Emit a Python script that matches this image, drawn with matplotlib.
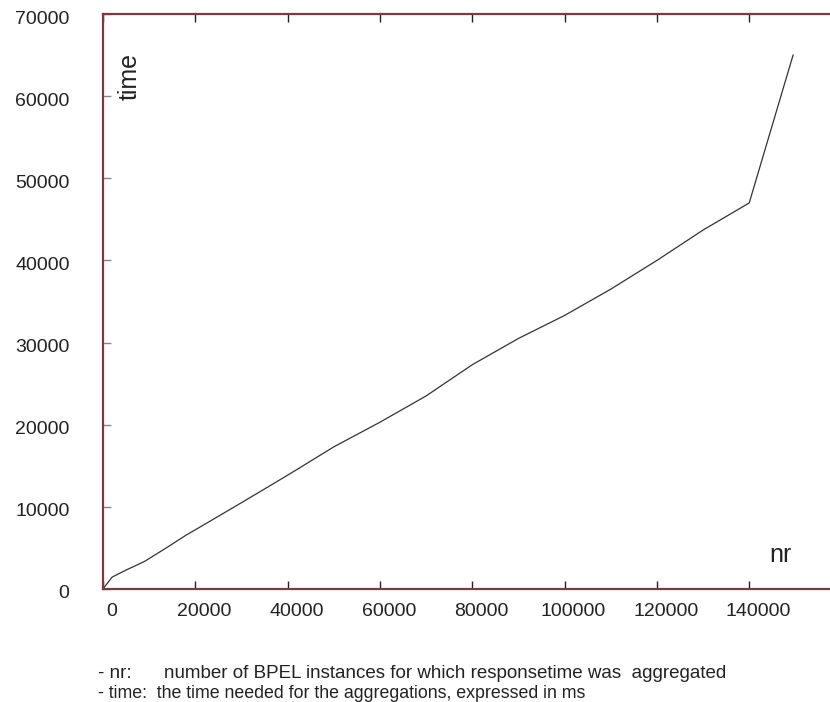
import matplotlib.pyplot as plt
import matplotlib.transforms as mtransforms
import numpy as np

plt.rcParams['font.family'] = ['Liberation Sans', 'DejaVu Sans']

nr = [0, 2000, 5000, 9000, 14000, 18000, 20000, 30000, 40000, 50000, 60000,
      70000, 80000, 90000, 100000, 110000, 120000, 130000, 140000, 149500]
time_ms = [0, 1450, 2300, 3350, 5100, 6550, 7200, 10500, 13850, 17300, 20300,
           23500, 27300, 30500, 33300, 36500, 40000, 43700, 47000, 65000]

xticks = np.arange(0, 140001, 20000)
yticks = np.arange(0, 70001, 10000)

spine_col = '#7d3a40'

fig = plt.figure(figsize=(8.3, 7.02), dpi=100)
ax = fig.add_axes([0.124, 0.161, 0.876, 0.819])

ax.plot(nr, time_ms, color='#333333', linewidth=0.9)

ax.set_xlim(0, 157500)
ax.set_ylim(0, 70000)
ax.set_xticks(xticks)
ax.set_yticks(yticks)
ax.set_xticklabels([str(v) for v in xticks])
ax.set_yticklabels([str(v) for v in yticks])

for s in ['left', 'top', 'bottom']:
    ax.spines[s].set_color(spine_col)
    ax.spines[s].set_linewidth(1.6)
ax.spines['right'].set_visible(False)

ax.tick_params(axis='x', direction='in', length=6, width=1, color='#222222',
               top=True, labelsize=14, pad=10, labelcolor='#222222')
ax.tick_params(axis='y', direction='in', length=6, width=1, color='#888888',
               labelsize=14, pad=24, labelcolor='#222222')

# labels in the original sit a little right / below their ticks
xoff = mtransforms.ScaledTranslation(9 / 100, 0, fig.dpi_scale_trans)
for lab in ax.get_xticklabels():
    lab.set_transform(lab.get_transform() + xoff)
yoff = mtransforms.ScaledTranslation(0, -3 / 100, fig.dpi_scale_trans)
for lab in ax.get_yticklabels():
    lab.set_transform(lab.get_transform() + yoff)

ax.text(130 / 830, 1 - 76 / 702, 'time', transform=fig.transFigure,
        fontsize=18, rotation=90, ha='center', va='center', color='#222222')
ax.text(781 / 830, 1 - 555 / 702, 'nr', transform=fig.transFigure,
        fontsize=18, ha='center', va='center', color='#222222')

fig.text(98 / 830, 1 - 678 / 702, '- nr:', fontsize=13.5, ha='left',
         va='baseline', color='#222222')
fig.text(164 / 830, 1 - 678 / 702,
         'number of BPEL instances for which responsetime was  aggregated',
         fontsize=13.5, ha='left', va='baseline', color='#222222')
fig.text(98 / 830, 1 - 698 / 702,
         '- time:  the time needed for the aggregations, expressed in ms',
         fontsize=12.8, ha='left', va='baseline', color='#222222')

fig.savefig('out.png', dpi=100)
